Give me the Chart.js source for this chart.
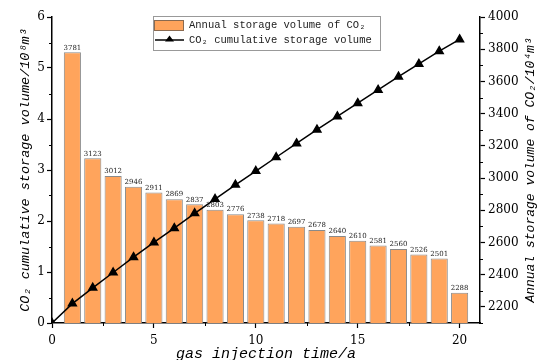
<!DOCTYPE html>
<html>
<head>
<meta charset="utf-8">
<script src="https://cdn.jsdelivr.net/npm/chart.js@4.4.1/dist/chart.umd.min.js"></script>
<style>
  html, body { margin: 0; padding: 0; background: #fff; }
</style>
</head>
<body>
<canvas id="chart" width="544" height="360"></canvas>
<script>
// 데이터
const years = [1, 2, 3, 4, 5, 6, 7, 8, 9, 10, 11, 12, 13, 14, 15, 16, 17, 18, 19, 20];
const annualVolume = [3781, 3123, 3012, 2946, 2911, 2869, 2837, 2803, 2776, 2738,
                      2718, 2697, 2678, 2640, 2610, 2581, 2560, 2526, 2501, 2288];
const cumYears = [0, 1, 2, 3, 4, 5, 6, 7, 8, 9, 10, 11, 12, 13, 14, 15, 16, 17, 18, 19, 20];
const cumulativeVolume = [0, 0.38, 0.69, 0.99, 1.29, 1.58, 1.86, 2.15, 2.43, 2.71, 2.98,
                          3.25, 3.52, 3.79, 4.05, 4.31, 4.57, 4.83, 5.08, 5.33, 5.56];

const bottomTicks = [0, 5, 10, 15, 20];
const bottomMinor = [2.5, 7.5, 12.5, 17.5];
const leftTicks = [0, 1, 2, 3, 4, 5, 6];
const leftMinor = [0.5, 1.5, 2.5, 3.5, 4.5, 5.5];
const rightTicks = [2200, 2400, 2600, 2800, 3000, 3200, 3400, 3600, 3800, 4000];
const rightMinor = [2100, 2300, 2500, 2700, 2900, 3100, 3300, 3500, 3700, 3900];

const barLabel = 'Annual storage volume of CO₂';
const lineLabel = 'CO₂ cumulative storage volume';
const rightTitle = 'Annual storage volume of CO₂/10⁴m³';

const BAR_COLOR = '#FFA45C';
const tickFont = { family: 'DejaVu Serif', size: 12 };
const titleFont = { family: 'Liberation Mono', size: 13.5, style: 'italic', lineHeight: 1 };

// 보조 눈금
const minorTicks = {
  id: 'minorTicks',
  afterDraw(chart) {
    const { ctx, scales: { x, y, y1 } } = chart;
    ctx.save();
    ctx.strokeStyle = '#000';
    ctx.lineWidth = 1;
    ctx.beginPath();
    leftMinor.forEach(v => {
      const p = Math.round(y.getPixelForValue(v)) + 0.5;
      ctx.moveTo(y.right - 3, p); ctx.lineTo(y.right, p);
    });
    rightMinor.forEach(v => {
      const p = Math.round(y1.getPixelForValue(v)) + 0.5;
      ctx.moveTo(y1.left, p); ctx.lineTo(y1.left + 3, p);
    });
    bottomMinor.forEach(v => {
      const p = Math.round(x.getPixelForValue(v)) + 0.5;
      ctx.moveTo(p, x.top); ctx.lineTo(p, x.top + 3);
    });
    ctx.stroke();
    ctx.restore();
  }
};

// 막대 위 값 표시
const barValues = {
  id: 'barValues',
  afterDatasetsDraw(chart) {
    const { ctx } = chart;
    const meta = chart.getDatasetMeta(1);
    ctx.save();
    ctx.font = '7px "DejaVu Serif"';
    ctx.fillStyle = '#222';
    ctx.textAlign = 'center';
    ctx.textBaseline = 'bottom';
    meta.data.forEach((bar, i) => {
      ctx.fillText(String(annualVolume[i]), bar.x, bar.y - 1);
    });
    ctx.restore();
  }
};

// 범례 + 오른쪽 축 제목
const legendBox = {
  id: 'legendBox',
  afterDraw(chart) {
    const { ctx, chartArea } = chart;
    ctx.save();
    ctx.fillStyle = '#fff';
    ctx.strokeStyle = '#999';
    ctx.lineWidth = 1;
    ctx.fillRect(153.5, 16.5, 227, 34);
    ctx.strokeRect(153.5, 16.5, 227, 34);

    ctx.fillStyle = BAR_COLOR;
    ctx.strokeStyle = '#8a6a50';
    ctx.fillRect(154.5, 20.5, 29, 10);
    ctx.strokeRect(154.5, 20.5, 29, 10);

    ctx.strokeStyle = '#000';
    ctx.lineWidth = 1.5;
    ctx.beginPath();
    ctx.moveTo(155, 40); ctx.lineTo(184, 40);
    ctx.stroke();
    ctx.fillStyle = '#000';
    ctx.beginPath();
    ctx.moveTo(169.5, 35.5); ctx.lineTo(174, 41.5); ctx.lineTo(165, 41.5);
    ctx.closePath(); ctx.fill();

    ctx.font = '10.5px "Liberation Mono"';
    ctx.fillStyle = '#222';
    ctx.textBaseline = 'middle';
    ctx.fillText(barLabel, 189, 25);
    ctx.fillText(lineLabel, 189, 40);

    ctx.translate(531, (chartArea.top + chartArea.bottom) / 2);
    ctx.rotate(-Math.PI / 2);
    ctx.font = 'italic 13px "Liberation Mono"';
    ctx.fillStyle = '#000';
    ctx.textAlign = 'center';
    ctx.fillText(rightTitle, 0, 0);
    ctx.restore();
  }
};

const ctx = document.getElementById('chart').getContext('2d');
new Chart(ctx, {
  data: {
    datasets: [
      {
        type: 'line',
        label: lineLabel,
        data: cumYears.map((x, i) => ({ x, y: cumulativeVolume[i] })),
        yAxisID: 'y',
        borderColor: '#000',
        backgroundColor: '#000',
        borderWidth: 1.5,
        pointStyle: 'triangle',
        pointRadius: 4.5,
        pointHoverRadius: 4.5,
        order: 0
      },
      {
        type: 'bar',
        label: barLabel,
        data: years.map((x, i) => ({ x, y: annualVolume[i] })),
        yAxisID: 'y1',
        backgroundColor: BAR_COLOR,
        borderColor: '#8a8a8a',
        borderWidth: 1,
        barPercentage: 0.84,
        categoryPercentage: 1,
        order: 1
      }
    ]
  },
  options: {
    responsive: false,
    animation: false,
    layout: { padding: { top: 17 } },
    plugins: { legend: { display: false }, tooltip: { enabled: false } },
    scales: {
      x: {
        type: 'linear',
        position: 'bottom',
        offset: false,
        min: 0,
        max: 21,
        afterBuildTicks: s => { s.ticks = bottomTicks.map(v => ({ value: v })); },
        afterFit: s => { s.height = 37; },
        grid: { drawOnChartArea: false, offset: false, color: '#000', tickLength: 5, tickWidth: 1.2 },
        border: { color: '#000', width: 1.5 },
        ticks: { font: tickFont, color: '#000', padding: 6, maxRotation: 0, callback: v => String(v) },
        title: {
          display: true,
          text: 'gas injection time/a',
          color: '#000',
          font: { family: 'Liberation Mono', size: 15, style: 'italic', lineHeight: 1 },
          padding: { top: 0, bottom: -2 }
        }
      },
      y: {
        type: 'linear',
        position: 'left',
        min: 0,
        max: 6,
        afterBuildTicks: s => { s.ticks = leftTicks.map(v => ({ value: v })); },
        afterFit: s => { s.width = 52; },
        grid: { drawOnChartArea: false, color: '#000', tickLength: 5, tickWidth: 1.2 },
        border: { color: '#000', width: 1.5 },
        ticks: { font: tickFont, color: '#000', padding: 2, callback: v => String(v) },
        title: {
          display: true,
          text: 'CO₂ cumulative storage volume/10⁸m³',
          color: '#000',
          font: titleFont,
          padding: { top: 19, bottom: 0 }
        }
      },
      y1: {
        type: 'linear',
        position: 'right',
        min: 2100,
        max: 4000,
        afterBuildTicks: s => { s.ticks = rightTicks.map(v => ({ value: v })); },
        afterFit: s => { s.width = 64; },
        grid: { drawOnChartArea: false, color: '#000', tickLength: 5, tickWidth: 1.2 },
        border: { color: '#000', width: 1.5 },
        ticks: { font: tickFont, color: '#000', padding: 3, callback: v => String(v) }
      }
    }
  },
  plugins: [minorTicks, barValues, legendBox]
});
</script>
</body>
</html>
